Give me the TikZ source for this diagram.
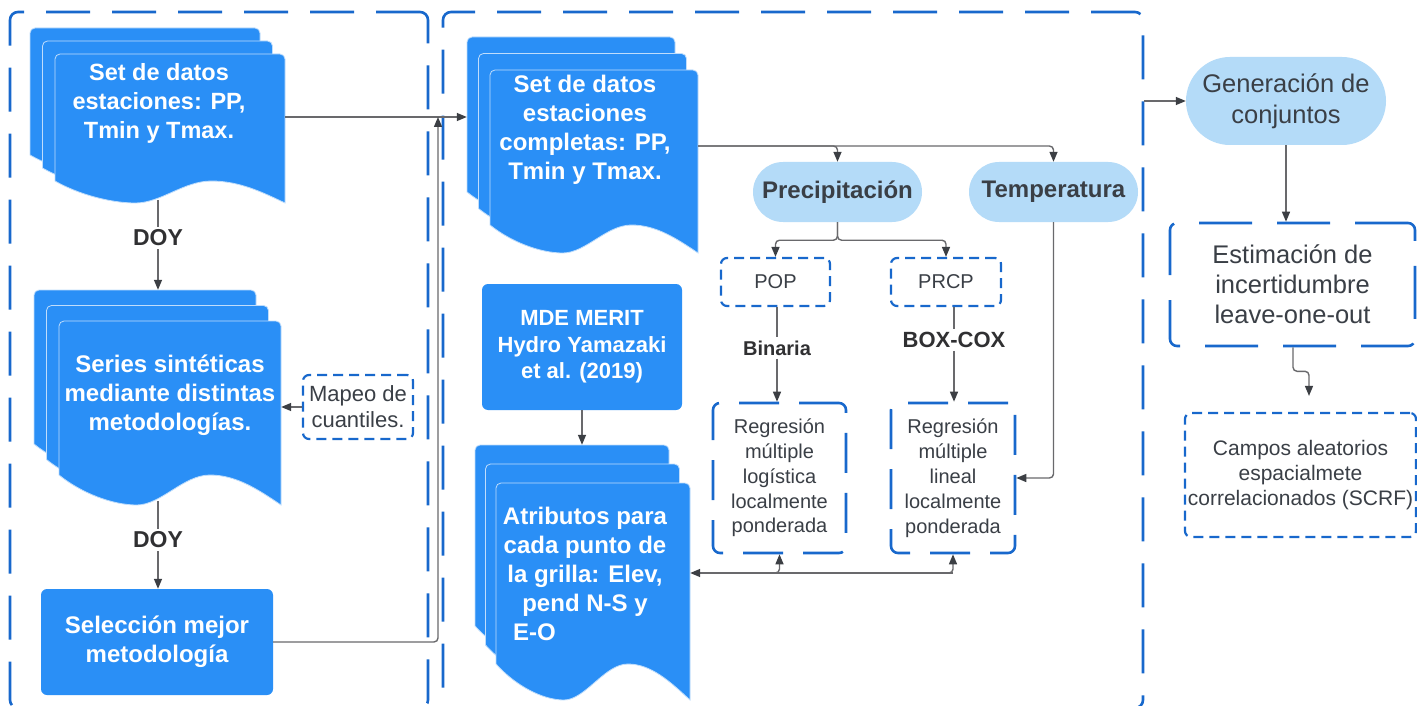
\documentclass[tikz,border=0pt]{standalone}
\usepackage{fontspec}
\setmainfont{Liberation Sans}
\usetikzlibrary{arrows.meta,fit,calc}
\definecolor{dashblue}{RGB}{24,104,204}
\definecolor{docblue}{RGB}{42,143,246}
\definecolor{lightblue}{RGB}{180,219,248}
\definecolor{txtgray}{RGB}{58,63,70}
\definecolor{lblgray}{RGB}{48,48,50}
\definecolor{linegray}{RGB}{105,105,108}
\definecolor{tipgray}{RGB}{60,63,68}
\tikzset{
  sheet/.style={fill=docblue, draw=white!70!docblue, line width=0.8pt},
  conn/.style={draw=linegray, line width=1.4pt, -{Triangle[length=10pt,width=8pt,color=tipgray]}},
  wire/.style={draw=linegray, line width=1.4pt},
  bigdash/.style={draw=dashblue, line width=2.6pt, dash pattern=on 44pt off 22pt, rounded corners=8pt, inner sep=0pt},
  estdash/.style={draw=dashblue, line width=2.6pt, dash pattern=on 53pt off 25pt, rounded corners=7pt, inner sep=0pt},
  meddash/.style={draw=dashblue, line width=2.6pt, dash pattern=on 40pt off 20pt, rounded corners=7pt, inner sep=0pt},
  smalldash/.style={draw=dashblue, line width=2.2pt, dash pattern=on 10pt off 6pt, rounded corners=6pt, inner sep=0pt},
  solidbox/.style={fill=docblue, draw=none, rounded corners=6pt, inner sep=0pt, text=white, align=center},
  stadium/.style={fill=lightblue, draw=none, inner sep=0pt, text=txtgray, align=center},
  wtext/.style={text=white, align=center, inner sep=0pt},
  gtext/.style={text=txtgray, align=center},
  lbl/.style={text=lblgray, inner sep=3pt}
}
\newcommand\docsheet[5]{%
  \path[sheet] ({#1},{#2+#4-#5})
    .. controls ({#1+0.1*#3},{#2+#4-0.4*#5}) and ({#1+0.24*#3},{#2+#4}) .. ({#1+0.35*#3},{#2+#4})
    .. controls ({#1+0.46*#3},{#2+#4}) and ({#1+0.56*#3},{#2+#4-#5}) .. ({#1+0.68*#3},{#2+#4-#5})
    .. controls ({#1+0.8*#3},{#2+#4-#5}) and ({#1+0.9*#3},{#2+#4-0.5*#5}) .. ({#1+#3},{#2+#4})
    [rounded corners=5pt] -- ({#1+#3},{#2}) -- ({#1},{#2}) [sharp corners] -- cycle;%
}
\newcommand\docstack[8]{%
  \docsheet{#2-2*#7}{#3-2*#8}{#4}{#5}{#6}%
  \docsheet{#2-#7}{#3-#8}{#4}{#5}{#6}%
  \docsheet{#2}{#3}{#4}{#5}{#6}%
  \coordinate (#1-tl) at ({#2-2*#7},{#3-2*#8});
  \coordinate (#1-br) at ({#2+#4},{#3+#5});
  \node[fit=(#1-tl)(#1-br), inner sep=0pt] (#1) {};%
}
\begin{document}
\begin{tikzpicture}[x=1pt, y=-1pt]
\useasboundingbox (0,0) rectangle (1417,706);
\clip (0,0) rectangle (1417,706);
\fill[white] (0,0) rectangle (1417,706);

% outer dashed regions
\node[bigdash, minimum width=418pt, minimum height=696pt] (left) at (219,360) {};
\node[bigdash, minimum width=700pt, minimum height=696pt] (mid) at (793,360) {};

% document stacks
\docstack{doc1}{55}{54}{230}{149}{22}{12.5}{13}
\node[wtext, font=\fontsize{23.5}{29}\selectfont\bfseries] (doc1t) at (159,103) {Set de datos\\estaciones: PP,\\Tmin y Tmax.};

\docstack{doc2}{59}{321}{222}{184}{30}{12.5}{15.5}
\node[wtext, font=\fontsize{24}{29}\selectfont\bfseries] (doc2t) at (170,395) {Series sintéticas\\mediante distintas\\metodologías.};

\docstack{doc3}{490}{70}{208}{183}{28}{11.5}{16.5}
\node[wtext, font=\fontsize{24}{29}\selectfont\bfseries] (doc3t) at (585,130) {Set de datos\\estaciones\\completas: PP,\\Tmin y Tmax.};

\docstack{doc4}{496}{483}{194}{217}{36}{10.5}{19}
\node[wtext, font=\fontsize{24}{29}\selectfont\bfseries] (doc4t) at (585,573.5) {Atributos para\\cada punto de\\la grilla: Elev,\\pend N-S y\\\makebox[144pt][l]{E-O}};

% solid boxes
\node[solidbox, minimum width=232pt, minimum height=106pt, font=\fontsize{24}{29}\selectfont\bfseries] (sel) at (157,642) {Selección mejor\\metodología};
\node[solidbox, minimum width=200pt, minimum height=126pt, font=\fontsize{22}{26.5}\selectfont\bfseries] (mde) at (582,347) {MDE MERIT\\Hydro Yamazaki\\et al. (2019)};

% dashed boxes
\node[smalldash, gtext, minimum width=110pt, minimum height=64pt, font=\fontsize{22}{26}\selectfont] (map) at (358,407) {Mapeo de\\cuantiles.};
\node[smalldash, gtext, minimum width=109pt, minimum height=48pt, font=\fontsize{20}{24}\selectfont] (pop) at (775.5,282) {POP};
\node[smalldash, gtext, minimum width=110pt, minimum height=48pt, font=\fontsize{20}{24}\selectfont] (prcp) at (946,282) {PRCP};
\node[meddash, gtext, minimum width=133pt, minimum height=150pt, font=\fontsize{20}{24.8}\selectfont] (reg1) at (779.5,478) {Regresión\\múltiple\\logística\\localmente\\ponderada};
\node[meddash, gtext, minimum width=124pt, minimum height=150pt, font=\fontsize{20}{25}\selectfont] (reg2) at (953,478) {Regresión\\múltiple\\lineal\\localmente\\ponderada};
\node[estdash, gtext, minimum width=245pt, minimum height=123pt, font=\fontsize{25.5}{30}\selectfont] (est) at (1292.5,284.5) {Estimación de\\incertidumbre\\leave-one-out};
\node[smalldash, gtext, minimum width=231pt, minimum height=124pt, font=\fontsize{21}{25}\selectfont] (campos) at (1300.5,475) {Campos aleatorios\\espacialmete\\correlacionados (SCRF)};

% stadiums
\node[stadium, rounded corners=30pt, minimum width=169pt, minimum height=60pt, font=\fontsize{24}{29}\selectfont\bfseries] (prec) at (837.5,192) {Precipitación};
\node[stadium, rounded corners=30pt, minimum width=169pt, minimum height=60pt, font=\fontsize{24}{29}\selectfont\bfseries] (temp) at (1053.5,192) {Temperatura};
\node[stadium, rounded corners=44pt, minimum width=200pt, minimum height=88pt, font=\fontsize{25.5}{31}\selectfont] (gen) at (1286,101) {Generación de\\conjuntos};

% labels
\node[lbl, font=\fontsize{23}{27}\selectfont\bfseries] (doy1) at (158,238) {DOY};
\node[lbl, font=\fontsize{23}{27}\selectfont\bfseries] (doy2) at (158,540) {DOY};
\node[lbl, font=\fontsize{20}{24}\selectfont\bfseries] (bin) at (777,348) {Binaria};
\node[lbl, font=\fontsize{22}{26}\selectfont\bfseries] (bc) at (954,340) {BOX-COX};

% junction coordinates
\coordinate (j1) at (438,117);
\coordinate (j2) at (700,146);
\coordinate (j3) at (953,573);

% connectors
\draw[wire] (doy1 |- doc1.south) ++(0,-3) -- (doy1.north);
\draw[conn] (doy1.south) -- (doy1 |- doc2.north);
\draw[wire] (doy2 |- doc2.south) ++(0,-4) -- (doy2.north);
\draw[conn] (doy2.south) -- (doy2 |- sel.north);
\draw[conn] (map.west) -- (map.west -| doc2.east);
\draw[conn] (doc1.east |- j1) -- (j1 -| doc3.west);
\draw[conn, rounded corners=4pt] (sel.east) -| (j1);
\draw[conn, rounded corners=4pt] (j2 -| doc3.east) -| (prec.north);
\draw[conn, rounded corners=4pt] (j2 -| doc3.east) -| (temp.north);
\draw[conn, rounded corners=4pt] (prec.south) -- ++(0,18) -| (pop.north);
\draw[conn, rounded corners=4pt] (prec.south) -- ++(0,18) -| (prcp.north);
\draw[wire] (pop.south -| bin) -- (bin.north);
\draw[conn] (bin.south) -- (bin |- reg1.north);
\draw[wire] (prcp.south -| bc) -- (bc.north);
\draw[conn] (bc.south) -- (bc |- reg2.north);
\draw[conn, rounded corners=4pt] (temp.south) |- (reg2.east);
\draw[conn] (j3) -- (j3 -| doc4.east);
\draw[conn, rounded corners=4pt] ($(j3)+(-30,0)$) -| (reg2.south);
\draw[conn, rounded corners=4pt] ($(reg1.south |- j3)+(-30,0)$) -| (reg1.south);
\draw[conn] (mde.south) -- (mde.south |- doc4.north);
\draw[conn] (mid.east |- gen.west) -- (gen.west);
\draw[conn] (gen.south) -- (gen.south |- est.north);
\draw[conn, rounded corners=4pt] ($(est.south)+(0.5,0)$) -- ++(0,24) -| ($(campos.north)+(8.5,-16)$);
\end{tikzpicture}
\end{document}
